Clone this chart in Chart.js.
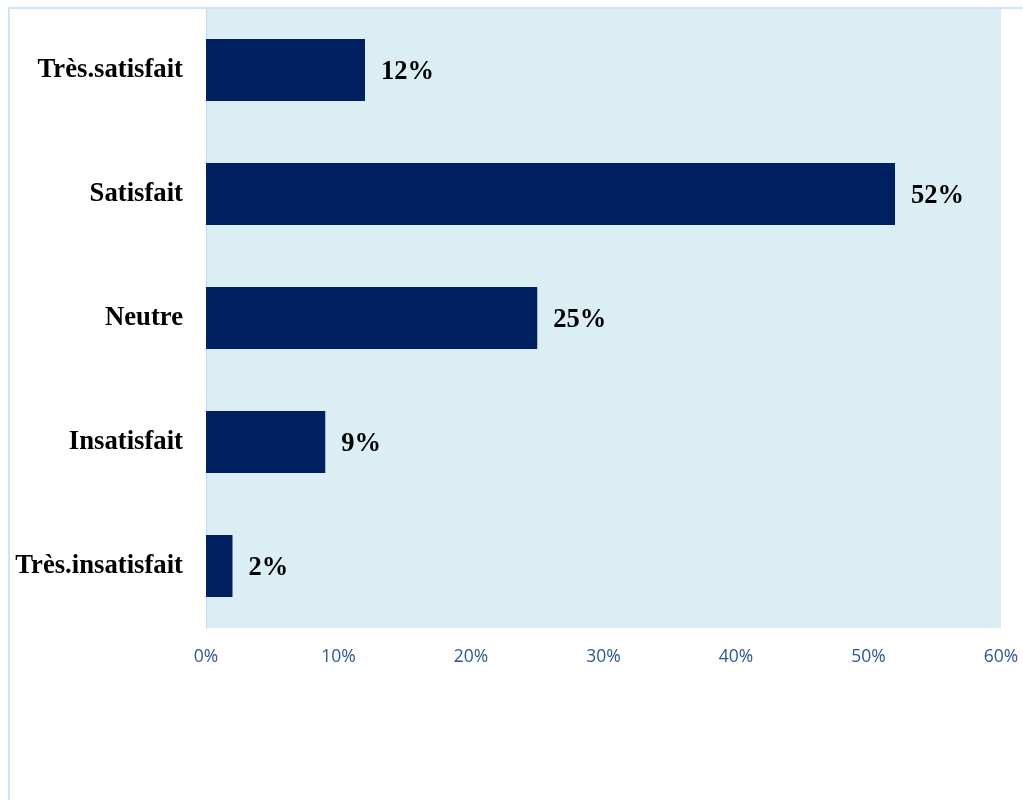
<!DOCTYPE html>
<html>
<head>
<meta charset="utf-8">
<script src="https://cdn.jsdelivr.net/npm/chart.js@4/dist/chart.umd.min.js"></script>
<style>
  html, body { margin: 0; padding: 0; background: #fff; }
  #wrap { width: 1023px; height: 800px; position: relative; }
</style>
</head>
<body>
<div id="wrap"><canvas id="myChart"></canvas></div>
<script>
const categories = ['Très.satisfait', 'Satisfait', 'Neutre', 'Insatisfait', 'Très.insatisfait'];
const percents = [12, 52, 25, 9, 2];
const tickValues = [0, 10, 20, 30, 40, 50, 60];

// light blue plot background plus the outer frame lines
const frame = {
    id: 'frame',
    beforeDraw(chart) {
        const { ctx, chartArea: a } = chart;
        ctx.save();
        ctx.fillStyle = '#DAEEF3';
        ctx.fillRect(a.left, a.top, a.right - a.left, a.bottom - a.top);
        ctx.strokeStyle = '#D3E2F5';
        ctx.lineWidth = 2;
        ctx.beginPath();
        ctx.moveTo(9, chart.height);
        ctx.lineTo(9, 8);
        ctx.lineTo(chart.width, 8);
        ctx.stroke();
        ctx.restore();
    }
};

// percentage labels to the right of each bar
const barLabels = {
    id: 'barLabels',
    afterDatasetsDraw(chart) {
        const { ctx } = chart;
        const meta = chart.getDatasetMeta(0);
        ctx.save();
        ctx.font = 'bold 26.5px "Liberation Serif", "Times New Roman", serif';
        ctx.fillStyle = '#000';
        ctx.textAlign = 'left';
        ctx.textBaseline = 'middle';
        meta.data.forEach((bar, i) => {
            ctx.fillText(percents[i] + '%', bar.x + 16, bar.y + 2);
        });
        ctx.restore();
    }
};

const ctx = document.getElementById('myChart').getContext('2d');
const myChart = new Chart(ctx, {
    type: 'bar',
    data: {
        labels: categories,
        datasets: [{
            data: percents,
            backgroundColor: '#002060',
            borderWidth: 0,
            categoryPercentage: 0.5,
            barPercentage: 1
        }]
    },
    options: {
        indexAxis: 'y',
        responsive: true,
        maintainAspectRatio: false,
        animation: false,
        layout: { padding: { left: 0, right: 22, top: 8, bottom: 122 } },
        plugins: { legend: { display: false }, tooltip: { enabled: false } },
        scales: {
            x: {
                min: 0,
                max: 60,
                afterBuildTicks(scale) {
                    scale.ticks = tickValues.map(v => ({ value: v }));
                },
                afterFit(scale) {
                    scale.height = 50;
                    scale.paddingLeft = 0;
                    scale.paddingRight = 0;
                },
                grid: { display: false, drawTicks: false },
                border: { display: false },
                ticks: {
                    padding: 19,
                    color: '#2B5891',
                    font: { family: '"Open Sans", "Noto Sans", sans-serif', size: 17.5 },
                    callback: v => v + '%'
                }
            },
            y: {
                afterFit(scale) {
                    scale.width = 206;
                    scale.paddingTop = 0;
                    scale.paddingBottom = 0;
                },
                grid: { display: false, drawTicks: false },
                border: { display: true, color: '#C6DCE8', width: 1 },
                ticks: {
                    padding: 23,
                    color: '#000',
                    font: { family: '"Liberation Serif", "Times New Roman", serif', size: 26.7, weight: 'bold' }
                }
            }
        }
    },
    plugins: [frame, barLabels]
});
</script>
</body>
</html>
